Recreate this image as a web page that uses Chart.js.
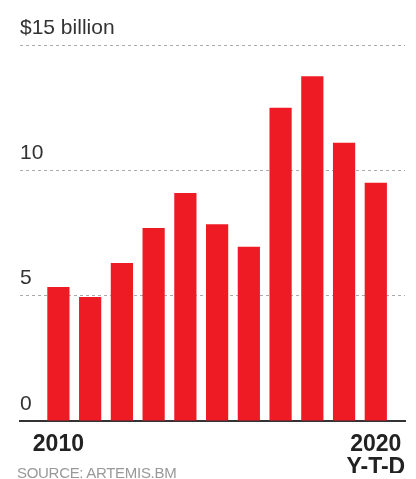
<!DOCTYPE html>
<html>
<head>
<meta charset="utf-8">
<script src="https://cdn.jsdelivr.net/npm/chart.js@4/dist/chart.umd.min.js"></script>
<style>
  html, body { margin: 0; padding: 0; background: #fff; }
  #wrap { position: relative; width: 416px; height: 479px; overflow: hidden; }
  #chart { display: block; }
  #source {
    position: absolute; left: 17px; top: 464px;
    font: 15px "Liberation Sans", Arial, sans-serif; color: #999;
    letter-spacing: -0.3px;
  }
</style>
</head>
<body>
<div id="wrap">
  <canvas id="chart" width="416" height="479"></canvas>
  <div id="source">SOURCE: ARTEMIS.BM</div>
</div>
<script>
const years = [2010, 2011, 2012, 2013, 2014, 2015, 2016, 2017, 2018, 2019, 2020];
const issuance = [5.35, 4.95, 6.3, 7.7, 9.1, 7.85, 6.95, 12.5, 13.75, 11.1, 9.5];
const yTicks = [0, 5, 10, 15];
const xLabelYears = [2010, 2020];

const ctx = document.getElementById('chart').getContext('2d');
new Chart(ctx, {
  type: 'bar',
  data: {
    datasets: [{
      data: years.map((y, i) => ({ x: y, y: issuance[i] })),
      backgroundColor: '#ee1b24',
      categoryPercentage: 1,
      barPercentage: 0.7
    }]
  },
  options: {
    responsive: false,
    animation: false,
    layout: { padding: { top: 45, left: 20, right: 11, bottom: 6 } },
    plugins: { legend: { display: false }, tooltip: { enabled: false } },
    scales: {
      x: {
        type: 'linear',
        offset: false,
        min: 2008.79,
        max: 2020.92,
        grid: { display: false, drawTicks: false },
        border: { display: true, color: '#333', width: 2 },
        afterBuildTicks: axis => { axis.ticks = xLabelYears.map(v => ({ value: v })); },
        afterFit: axis => {
          axis.height = 52;
          // let the year labels hang past the plot edges
          axis.paddingLeft = 0;
          axis.paddingRight = 0;
        },
        ticks: {
          padding: 12,
          color: '#222',
          font: { family: '"Liberation Sans", Arial, sans-serif', size: 23, weight: 'bold', lineHeight: 1.0 },
          callback: v => v === 2020 ? ['2020', 'Y-T-D'] : String(v)
        }
      },
      y: {
        min: 0,
        max: 15,
        afterBuildTicks: axis => { axis.ticks = yTicks.map(v => ({ value: v })); },
        grid: {
          drawTicks: false,
          color: c => c.tick && c.tick.value === 0 ? 'rgba(0,0,0,0)' : '#aaa'
        },
        border: { display: false, dash: [3, 3] },
        ticks: {
          mirror: true,
          padding: 0,
          labelOffset: -17,
          color: '#333',
          font: { family: '"Liberation Sans", Arial, sans-serif', size: 21 },
          callback: v => v === 15 ? '$15 billion' : String(v)
        }
      }
    }
  }
});
</script>
</body>
</html>
